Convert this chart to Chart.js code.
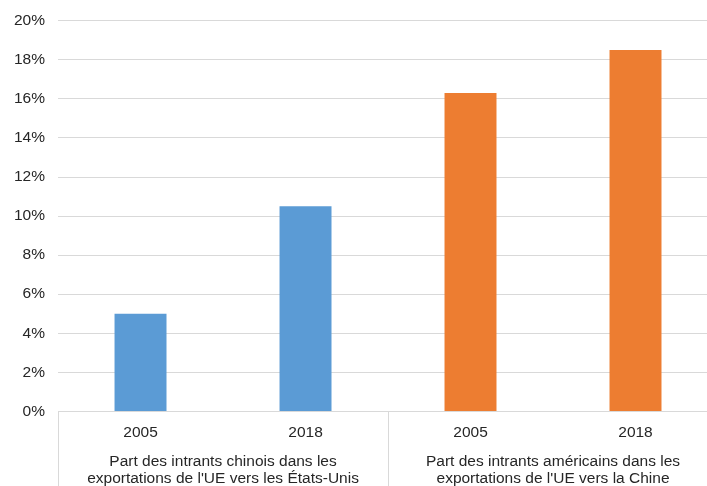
<!DOCTYPE html>
<html>
<head>
<meta charset="utf-8">
<script src="https://cdn.jsdelivr.net/npm/chart.js@4.4.1/dist/chart.umd.min.js"></script>
<style>
  html, body { margin: 0; padding: 0; background: #fff; overflow: hidden; }
  #wrap { width: 719px; height: 486px; position: relative; }
</style>
</head>
<body>
<div id="wrap"><canvas id="chart"></canvas></div>
<script>
// chart data
const years = ['2005', '2018', '2005', '2018'];
const values = [5.0, 10.5, 16.3, 18.5];
const groupLabels = [
  ['Part des intrants chinois dans les', "exportations de l'UE vers les États-Unis"],
  ['Part des intrants américains dans les', "exportations de l'UE vers la Chine"]
];
const barGroup = [0, 0, 1, 1];
const groupColors = ['#5B9BD5', '#ED7D31'];
const yMax = 20;
const yStep = 2;

const GRID = '#d9d9d9';
const TEXT = '#262626';
const FONT = "'Liberation Sans', Arial, sans-serif";

// group labels and separators under the year axis
const groupAxis = {
  id: 'groupAxis',
  afterDraw(chart) {
    const x = chart.scales.x;
    const area = chart.chartArea;
    const ctx = chart.ctx;
    const mid = (x.getPixelForValue(1) + x.getPixelForValue(2)) / 2;
    ctx.save();
    ctx.strokeStyle = GRID;
    ctx.lineWidth = 1;
    [area.left, mid, area.right].forEach((px) => {
      const p = Math.round(px) + 0.5;
      ctx.beginPath();
      ctx.moveTo(p, area.bottom);
      ctx.lineTo(p, chart.height);
      ctx.stroke();
    });

    ctx.fillStyle = TEXT;
    ctx.font = '15.5px ' + FONT;
    ctx.textAlign = 'center';
    ctx.textBaseline = 'middle';
    const centers = [(area.left + mid) / 2, (mid + area.right) / 2];
    groupLabels.forEach((lines, g) => {
      lines.forEach((line, i) => {
        ctx.fillText(line, centers[g], area.bottom + 50 + i * 17);
      });
    });
    ctx.restore();
  }
};

new Chart(document.getElementById('chart'), {
  type: 'bar',
  data: {
    labels: years,
    datasets: [{
      data: values,
      backgroundColor: barGroup.map((g) => groupColors[g]),
      categoryPercentage: 1,
      barPercentage: 0.315
    }]
  },
  options: {
    responsive: true,
    maintainAspectRatio: false,
    animation: false,
    layout: { padding: { left: 1, top: 0, right: 1, bottom: 32 } },
    plugins: { legend: { display: false }, tooltip: { enabled: false } },
    scales: {
      y: {
        min: 0,
        max: yMax,
        ticks: {
          stepSize: yStep,
          padding: 13,
          color: TEXT,
          font: { family: FONT, size: 15.5, lineHeight: 1 },
          callback: (v) => v + '%'
        },
        grid: { color: GRID, drawTicks: false },
        border: { display: false }
      },
      x: {
        grid: { display: false, drawTicks: false },
        border: { color: GRID },
        ticks: {
          padding: 12,
          color: TEXT,
          font: { family: FONT, size: 15.5, lineHeight: 1.2 }
        }
      }
    }
  },
  plugins: [groupAxis]
});
</script>
</body>
</html>
